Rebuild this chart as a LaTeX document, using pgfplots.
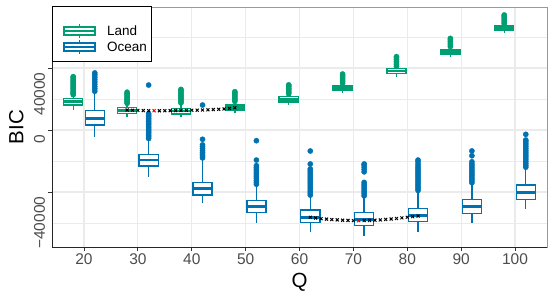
\documentclass[border=0pt]{standalone}
\usepackage{pgfplots}
\pgfplotsset{compat=1.18}
\usepackage{fontspec}
\setmainfont{Liberation Sans}
\definecolor{landc}{HTML}{009E73}
\definecolor{oceanc}{HTML}{0072B2}
\definecolor{gridc}{HTML}{EBEBEB}
\definecolor{tickc}{HTML}{4D4D4D}
% color, position, lower whisker, lower quartile, median, upper quartile, upper whisker
\newcommand{\bx}[7]{%
 \pgfmathsetmacro\xl{#2-1.775}\pgfmathsetmacro\xr{#2+1.775}%
 \edef\tmp{\noexpand\addplot[#1, line width=1.4bp, fill=white] coordinates {(\xl,#4)(\xr,#4)(\xr,#6)(\xl,#6)(\xl,#4)} -- cycle;}\tmp
 \edef\tmp{\noexpand\addplot[#1, line width=2.6bp] coordinates {(\xl,#5)(\xr,#5)};}\tmp
 \addplot[#1, line width=1.4bp] coordinates {(#2,#3)(#2,#4)};
 \addplot[#1, line width=1.4bp] coordinates {(#2,#6)(#2,#7)};}
\begin{document}
\begin{tikzpicture}
\begin{axis}[
  at={(0,0)}, anchor=south west,
  width=495bp, height=240bp, scale only axis,
  xmin=14.06, xmax=105.94, ymin=-75480, ymax=79350,
  xtick={20,30,40,50,60,70,80,90,100},
  ytick={-40000,0,40000},
  yticklabels={−40000,0,40000},
  minor ytick={-60000,-20000,20000,60000},
  grid=both,
  major grid style={gridc, line width=1.1bp},
  minor grid style={gridc, line width=0.55bp},
  tick pos=left, tick align=outside,
  major tick length=3.5bp, minor tick length=0pt,
  tick style={black!80, line width=0.8bp},
  axis line style={black!40, line width=0.8bp},
  /pgf/number format/assume math mode=true,
  tick label style={font=\fontsize{15.5bp}{18bp}\selectfont, text=tickc},
  yticklabel style={rotate=90, anchor=south east, xshift=-1bp},
  scaled ticks=false,
  xlabel={Q}, ylabel={BIC},
  label style={font=\fontsize{20.5bp}{24bp}\selectfont},
  xlabel style={at={(axis description cs:0.5,-0.1708)}, anchor=base},
  ylabel style={at={(axis description cs:-0.058,0.5)}, anchor=base},
]
% Land boxes
\bx{landc}{18}{12900}{16130}{18260}{20450}{21900}
\bx{landc}{28}{8580}{10770}{12580}{14390}{16130}
\bx{landc}{38}{8190}{10320}{12260}{14000}{16000}
\bx{landc}{48}{10770}{12900}{14520}{16130}{17400}
\bx{landc}{58}{16130}{18060}{19680}{21480}{22500}
\bx{landc}{68}{24060}{25800}{27290}{28840}{29350}
\bx{landc}{78}{34390}{36580}{38060}{39800}{40300}
\bx{landc}{88}{46900}{49030}{50510}{52070}{53000}
\bx{landc}{98}{62380}{64060}{65600}{67100}{67800}
% Ocean boxes
\bx{oceanc}{22}{-4710}{3230}{7290}{12450}{23700}
\bx{oceanc}{32}{-30130}{-23230}{-19350}{-15680}{-6450}
\bx{oceanc}{42}{-47290}{-41940}{-37870}{-34000}{-19350}
\bx{oceanc}{52}{-59800}{-53360}{-49480}{-45610}{-36130}
\bx{oceanc}{62}{-65600}{-59800}{-56310}{-51600}{-43200}
\bx{oceanc}{72}{-68200}{-61740}{-57870}{-53360}{-43200}
\bx{oceanc}{82}{-65600}{-59160}{-55290}{-50520}{-40000}
\bx{oceanc}{92}{-59800}{-53740}{-49480}{-44710}{-34840}
\bx{oceanc}{102}{-50970}{-44710}{-40450}{-35480}{-25160}
% Land outliers
\addplot[only marks, mark=*, mark size=2.6bp, draw=landc, fill=landc] coordinates {
(18,22800)(18,23500)(18,24200)(18,25000)(18,25800)(18,26600)(18,27400)(18,28200)(18,29000)(18,29800)(18,30600)(18,31400)(18,32200)(18,33000)(18,33800)(18,34400)
(28,17200)(28,18000)(28,18800)(28,19600)(28,20400)(28,21200)(28,22000)(28,22800)(28,23600)(28,24400)
(38,17500)(38,18400)(38,19300)(38,20200)(38,21100)(38,22000)(38,22900)(38,23800)(38,24700)(38,25600)(38,26200)
(48,18500)(48,19400)(48,20300)(48,21200)(48,22100)(48,23000)(48,23900)(48,24700)
(58,23300)(58,24200)(58,25100)(58,26000)(58,26900)(58,27800)(58,28700)(58,29100)
(68,30200)(68,31200)(68,32200)(68,33200)(68,34200)(68,35200)(68,36100)
(78,41000)(78,42100)(78,43200)(78,44300)(78,45400)(78,46500)(78,47300)
(88,53800)(88,54900)(88,56000)(88,57100)(88,58200)(88,59100)
(98,68500)(98,69500)(98,70500)(98,71500)(98,72500)(98,73500)(98,74200)
};
% Ocean outliers
\addplot[only marks, mark=*, mark size=2.6bp, draw=oceanc, fill=oceanc] coordinates {
(22,25000)(22,26500)(22,28000)(22,29500)(22,31000)(22,32500)(22,34000)(22,35500)(22,36800)
(32,-5500)(32,-4500)(32,-3500)(32,-2500)(32,-1500)(32,-500)(32,500)(32,1500)(32,2500)(32,3500)(32,4500)(32,5500)(32,6500)(32,7500)(32,8500)(32,9500)(32,10500)(32,29000)
(42,-18000)(42,-16800)(42,-15600)(42,-14400)(42,-13200)(42,-12000)(42,-10800)(42,-9600)(42,-6000)(42,16100)
(52,-35000)(52,-33800)(52,-32600)(52,-31400)(52,-30200)(52,-29000)(52,-27800)(52,-26600)(52,-25400)(52,-24200)(52,-23000)(52,-19400)(52,-6900)
(62,-42000)(62,-40700)(62,-39400)(62,-38100)(62,-36800)(62,-35500)(62,-34200)(62,-32900)(62,-31600)(62,-30300)(62,-29000)(62,-27700)(62,-26400)(62,-25100)(62,-21930)(62,-13550)
(72,-42500)(72,-41200)(72,-40000)(72,-38800)(72,-37500)(72,-36200)(72,-35000)(72,-33800)(72,-27000)(72,-25500)(72,-24000)(72,-22500)(72,-21900)
(82,-39000)(82,-37800)(82,-36600)(82,-35400)(82,-34200)(82,-33000)(82,-31800)(82,-30600)(82,-29400)(82,-28200)(82,-27000)(82,-25800)(82,-24600)(82,-23400)(82,-22000)(82,-20400)(82,-19400)
(92,-34000)(92,-32800)(92,-31600)(92,-30400)(92,-29200)(92,-28000)(92,-26800)(92,-25600)(92,-24400)(92,-23200)(92,-22000)(92,-20500)(92,-16600)(92,-13500)
(102,-24000)(102,-22800)(102,-21600)(102,-20400)(102,-19200)(102,-18000)(102,-16800)(102,-15600)(102,-14400)(102,-13200)(102,-12000)(102,-10800)(102,-9600)(102,-8400)(102,-7200)(102,-6450)(102,-2800)
};
% BIC curves
\addplot[only marks, mark=x, mark size=2.1bp, black, mark options={line width=1bp}] coordinates {
(28,12900)(29,12750)(30,12650)(31,12550)(32,12480)(34,12430)(35,12460)(36,12500)(37,12550)(38,12600)(39,12650)(40,12720)(41,12800)(42,12900)(43,13020)(44,13170)(45,13350)(46,13580)(47,13900)(48,14300)
(62,-56300)(63,-56800)(64,-57200)(65,-57500)(66,-57800)(67,-58000)(68,-58200)(69,-58350)(70,-58450)(72,-58450)(73,-58350)(74,-58200)(75,-58000)(76,-57700)(77,-57400)(78,-57100)(79,-56700)(80,-56300)(81,-55900)(82,-55500)
};
\addplot[only marks, mark=x, mark size=2.1bp, red, mark options={line width=1bp}] coordinates {(33,12420)(71,-58500)};
\end{axis}
\draw[black!85, line width=0.8bp] (0bp,240bp) -- (0bp,0bp) -- (495bp,0bp);
% legend
\draw[black, line width=1bp, fill=white] (0bp,185bp) rectangle (99bp,240bp);
\draw[landc, line width=1.4bp, fill=white] (12bp,212bp) rectangle (43bp,220bp);
\draw[landc, line width=1.4bp] (12bp,216bp) -- (43bp,216bp) (27.5bp,220bp) -- (27.5bp,223bp) (27.5bp,212bp) -- (27.5bp,209bp);
\draw[oceanc, line width=1.4bp, fill=white] (12bp,196bp) rectangle (43bp,204bp);
\draw[oceanc, line width=1.4bp] (12bp,200bp) -- (43bp,200bp) (27.5bp,204bp) -- (27.5bp,207bp) (27.5bp,196bp) -- (27.5bp,193bp);
\node[anchor=base west, inner sep=0pt, font=\fontsize{13.5bp}{16bp}\selectfont] at (55bp,211.3bp) {Land};
\node[anchor=base west, inner sep=0pt, font=\fontsize{13.5bp}{16bp}\selectfont] at (55bp,195.3bp) {Ocean};
\pgfresetboundingbox
\path[use as bounding box] (-52bp,-53bp) rectangle (502bp,247bp);
\end{tikzpicture}
\end{document}
